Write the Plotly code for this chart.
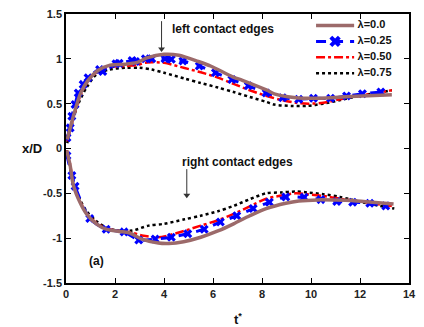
import plotly.graph_objects as go

# Contact edge positions x/D versus dimensionless time t*, for four lambda values
labels = ["λ=0.0", "λ=0.25", "λ=0.50", "λ=0.75"]

# left contact edges (upper branch)
t_left_00 = [0.05, 0.3, 0.6, 0.9, 1.3, 1.8, 2.4, 2.9, 3.3, 4.0, 4.6, 5.4, 5.9, 6.8, 7.2, 8.2, 8.5, 9.3, 10.3, 11.6, 13.3]
x_left_00 = [0.10, 0.36, 0.62, 0.76, 0.87, 0.93, 0.94, 0.96, 1.01, 1.05, 1.04, 0.97, 0.92, 0.80, 0.76, 0.65, 0.61, 0.57, 0.56, 0.58, 0.60]

t_left_25 = [0.04, 0.17, 0.24, 0.37, 0.5, 0.7, 0.9, 1.37, 1.5, 2.04, 2.17, 2.7, 2.84, 3.24, 3.5, 4.04, 4.3, 4.77,
             5.44, 6.1, 6.77, 7.44, 8.17, 8.84, 9.5, 10.1, 10.8, 11.45, 12.1, 12.85]
x_left_25 = [0.12, 0.23, 0.36, 0.49, 0.62, 0.715, 0.79, 0.88, 0.86, 0.945, 0.95, 0.98, 0.97, 1.0, 1.0, 1.0, 0.995, 0.975,
             0.92, 0.845, 0.77, 0.70, 0.62, 0.567, 0.55, 0.56, 0.56, 0.585, 0.61, 0.63]

t_left_50 = [0.05, 0.3, 0.6, 0.9, 1.3, 1.8, 2.4, 2.9, 3.3, 4.0, 4.8, 5.5, 6.2, 6.84, 7.5, 8.2, 8.8, 9.4, 9.9, 10.5, 11.2, 12.0, 12.7, 13.3]
x_left_50 = [0.08, 0.34, 0.60, 0.75, 0.86, 0.91, 0.92, 0.93, 0.96, 0.955, 0.90, 0.85, 0.79, 0.72, 0.65, 0.585, 0.54, 0.51, 0.50, 0.51, 0.55, 0.59, 0.62, 0.65]

t_left_75 = [0.05, 0.44, 0.84, 1.24, 1.77, 2.44, 3.0, 3.5, 4.0, 4.84, 5.5, 6.2, 6.84, 7.5, 8.17, 8.5, 9.2, 9.85, 10.5, 11.2, 12.0, 12.7, 13.3]
x_left_75 = [0.06, 0.456, 0.68, 0.826, 0.88, 0.90, 0.90, 0.88, 0.845, 0.78, 0.73, 0.68, 0.63, 0.575, 0.52, 0.49, 0.475, 0.475, 0.50, 0.54, 0.59, 0.62, 0.65]

# right contact edges (lower branch)
t_right_00 = [0.03, 0.17, 0.3, 0.57, 0.84, 1.24, 1.64, 2.17, 2.57, 3.1, 3.77, 4.2, 4.8, 5.5, 6.2, 6.84, 7.5, 8.17, 8.97, 9.5, 10.3, 11.0, 11.64, 12.5, 13.37]
x_right_00 = [-0.02, -0.19, -0.41, -0.60, -0.73, -0.84, -0.90, -0.925, -0.94, -1.01, -1.055, -1.06, -1.04, -0.99, -0.92, -0.84, -0.75, -0.67, -0.61, -0.585, -0.573, -0.575, -0.58, -0.60, -0.62]

t_right_25 = [0.04, 0.24, 0.37, 0.97, 1.64, 2.37, 2.97, 3.64, 4.3, 4.97, 5.64, 6.3, 6.97, 7.64, 8.3, 8.97, 9.72, 10.4, 11.05, 11.7, 12.4, 13.05]
x_right_25 = [-0.08, -0.30, -0.42, -0.78, -0.90, -0.93, -1.02, -1.01, -0.99, -0.95, -0.90, -0.82, -0.75, -0.67, -0.60, -0.54, -0.545, -0.57, -0.59, -0.60, -0.61, -0.64]

t_right_50 = [0.03, 0.17, 0.3, 0.57, 0.84, 1.24, 1.64, 2.17, 2.57, 3.1, 3.77, 4.57, 5.5, 6.2, 6.84, 7.5, 8.17, 8.78, 9.37, 9.85, 10.5, 11.18, 12.0, 12.7, 13.3]
x_right_50 = [-0.02, -0.18, -0.40, -0.59, -0.72, -0.83, -0.89, -0.92, -0.93, -0.97, -0.99, -0.94, -0.86, -0.80, -0.73, -0.645, -0.56, -0.525, -0.50, -0.51, -0.53, -0.56, -0.59, -0.62, -0.64]

t_right_75 = [0.03, 0.3, 0.57, 0.84, 1.24, 1.64, 2.0, 2.7, 3.37, 4.0, 4.84, 5.5, 6.2, 6.84, 7.5, 8.17, 8.78, 9.37, 9.85, 10.5, 11.18, 12.25, 13.4]
x_right_75 = [-0.02, -0.38, -0.57, -0.70, -0.81, -0.88, -0.91, -0.915, -0.86, -0.84, -0.79, -0.75, -0.70, -0.64, -0.565, -0.50, -0.49, -0.48, -0.49, -0.51, -0.54, -0.61, -0.67]

x_ticks = [0, 2, 4, 6, 8, 10, 12, 14]
y_ticks = [-1.5, -1, -0.5, 0, 0.5, 1, 1.5]
y_tick_text = ["-1.5", "-1", "-0.5", "0", "0.5", "1", "1.5"]

FONT = "Liberation Sans, Arial"
styles = [
    dict(color="#9C6A6A", width=3.5, dash="solid"),
    dict(color="#0000FF", width=3, dash="dash"),
    dict(color="#FF0000", width=2.5, dash="dashdot"),
    dict(color="#000000", width=2.5, dash="dot"),
]
branches = [
    (t_left_00, x_left_00, t_right_00, x_right_00),
    (t_left_25, x_left_25, t_right_25, x_right_25),
    (t_left_50, x_left_50, t_right_50, x_right_50),
    (t_left_75, x_left_75, t_right_75, x_right_75),
]
blue_marker = dict(symbol="x", size=8, color="#0000FF", line=dict(width=0))

fig = go.Figure()
for i in [3, 2, 1, 0]:
    tl, xl, tr, xr = branches[i]
    st = styles[i]
    mode = "lines+markers" if i == 1 else "lines"
    for tt, xx in [(tl, xl), (tr, xr)]:
        fig.add_trace(go.Scatter(
            x=tt, y=xx, mode=mode, name=labels[i], showlegend=False,
            line=dict(color=st["color"], width=st["width"], dash=st["dash"], shape="spline", smoothing=0.8),
            marker=blue_marker if i == 1 else None,
        ))

# compact legend drawn on a hidden overlay axis spanning the plot area (0..1 both ways)
leg_x0, leg_x1, leg_tx = 0.729, 0.84, 0.85
leg_top, leg_step = 0.957, 0.059
for i, st in enumerate(styles):
    yy = leg_top - i * leg_step
    dash = "10px,7px" if i == 1 else st["dash"]
    fig.add_trace(go.Scatter(
        x=[leg_x0, leg_x1], y=[yy, yy], mode="lines", xaxis="x2", yaxis="y2", showlegend=False,
        line=dict(color=st["color"], width=st["width"], dash=dash), hoverinfo="skip",
    ))
    if i == 1:
        fig.add_trace(go.Scatter(
            x=[(leg_x0 + leg_x1) / 2], y=[yy], mode="markers", xaxis="x2", yaxis="y2", showlegend=False,
            marker=dict(symbol="x", size=10, color="#0000FF", line=dict(width=0)), hoverinfo="skip",
        ))
    fig.add_trace(go.Scatter(
        x=[leg_tx], y=[yy], mode="text", text=[labels[i]], textposition="middle right",
        xaxis="x2", yaxis="y2", showlegend=False, hoverinfo="skip",
        textfont=dict(family=FONT, size=11, color="#111111", weight="bold"),
    ))

# pointer arrows (shaft plus downward head) toward each group of contact edges
for t_arrow, y_tail, y_tip in [(3.9, 1.42, 1.09), (4.93, -0.23, -0.54)]:
    fig.add_trace(go.Scatter(
        x=[t_arrow, t_arrow], y=[y_tail, y_tip + 0.03], mode="lines", showlegend=False, hoverinfo="skip",
        line=dict(color="#333333", width=1),
    ))
    fig.add_trace(go.Scatter(
        x=[t_arrow], y=[y_tip + 0.02], mode="markers", showlegend=False, hoverinfo="skip",
        marker=dict(symbol="triangle-down", size=6, color="#333333", line=dict(width=0)),
    ))

axis_common = dict(
    showline=True, linecolor="black", linewidth=1.5, mirror="ticks",
    ticks="inside", ticklen=5, tickwidth=1.2, tickcolor="black",
    showgrid=False, zeroline=False,
    tickfont=dict(family=FONT, size=11, color="#222222", weight="bold"),
)
fig.update_xaxes(range=[0, 14], tickvals=x_ticks, **axis_common)
fig.update_yaxes(range=[-1.5, 1.5], tickvals=y_ticks, ticktext=y_tick_text, **axis_common)

fig.add_annotation(x=4.25, y=1.33, text="left contact edges", showarrow=False, xanchor="left",
                   font=dict(family=FONT, size=12, color="#111111", weight="bold"))
fig.add_annotation(x=4.65, y=-0.15, text="right contact edges", showarrow=False, xanchor="left",
                   font=dict(family=FONT, size=12, color="#111111", weight="bold"))
fig.add_annotation(x=1.25, y=-1.26, text="(a)", showarrow=False,
                   font=dict(family=FONT, size=12, color="#111111", weight="bold"))
fig.add_annotation(xref="paper", yref="y", x=-0.065, y=0.0, xanchor="right", text="x/D", showarrow=False,
                   font=dict(family=FONT, size=13, color="#111111", weight="bold"))
fig.add_annotation(xref="x", yref="paper", x=7, y=-0.095, yanchor="top", text="t<sup>*</sup>", showarrow=False,
                   font=dict(family=FONT, size=13, color="#111111", weight="bold"))

fig.update_layout(
    width=424, height=327,
    margin=dict(l=66, r=8, t=13, b=44),
    paper_bgcolor="white", plot_bgcolor="white",
    showlegend=False,
    xaxis2=dict(overlaying="x", range=[0, 1], visible=False, fixedrange=True),
    yaxis2=dict(overlaying="y", range=[0, 1], visible=False, fixedrange=True),
)

fig.write_html("out.html")
